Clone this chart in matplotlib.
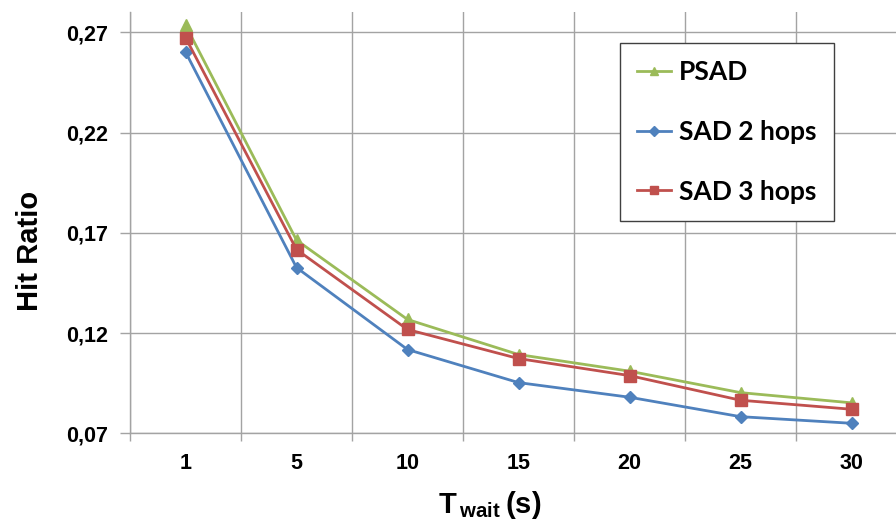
import matplotlib
matplotlib.use('Agg')
import matplotlib.pyplot as plt
import numpy as np

# T_wait categories (s) and hit ratios
t_wait = ['1', '5', '10', '15', '20', '25', '30']
psad = [0.2737, 0.1664, 0.1268, 0.1093, 0.1010, 0.0903, 0.0852]
sad_2hops = [0.2603, 0.1527, 0.1118, 0.0953, 0.0880, 0.0783, 0.0750]
sad_3hops = [0.2675, 0.1617, 0.1218, 0.1073, 0.0988, 0.0865, 0.0820]
y_ticks = [0.07, 0.12, 0.17, 0.22, 0.27]

plt.rcParams['font.family'] = 'Liberation Sans'
plt.rcParams['font.weight'] = 'bold'
plt.rcParams['mathtext.fontset'] = 'custom'
plt.rcParams['mathtext.rm'] = 'Liberation Sans:bold'
plt.rcParams['mathtext.bf'] = 'Liberation Sans:bold'

fig = plt.figure(figsize=(8.96, 5.27), dpi=100)
W, H = 896, 527
ax = fig.add_axes([130 / W, 1 - 433.3 / H, 777 / W, (433.3 - 12) / H])

grid_c = '#a3a3a3'
x = np.arange(len(t_wait))

ax.plot(x, psad, color='#9bbb59', lw=2, marker='^', ms=8, label='PSAD', zorder=3)
ax.plot(x, sad_2hops, color='#4f81bd', lw=2, marker='D', ms=6, label='SAD 2 hops', zorder=3)
ax.plot(x, sad_3hops, color='#c0504d', lw=2, marker='s', ms=8, label='SAD 3 hops', zorder=3)

ax.set_xlim(-0.5, len(t_wait) - 0.5)
ax.set_ylim(0.07, 0.07 + 0.05 * (433.3 - 12) / 100.2)

ax.set_xticks(x)
ax.set_xticklabels(t_wait)
ax.set_xticks(np.arange(len(t_wait) + 1) - 0.5, minor=True)
ax.tick_params(axis='x', which='major', length=0, pad=14, labelsize=15.5)
ax.tick_params(axis='x', which='minor', length=6, color=grid_c, width=1)
ax.grid(True, axis='x', which='minor', color=grid_c, lw=1)

ax.set_yticks(y_ticks)
ax.set_yticklabels([('%.2f' % v).replace('.', ',') for v in y_ticks])
ax.tick_params(axis='y', length=7, color=grid_c, width=1, pad=9, labelsize=15.5)
ax.grid(True, axis='y', color=grid_c, lw=1)
ax.set_axisbelow(True)

for s in ['top', 'right']:
    ax.spines[s].set_visible(False)
for s in ['left', 'bottom']:
    ax.spines[s].set_color(grid_c)
    ax.spines[s].set_linewidth(1)

fig.text(30 / W, 1 - 251 / H, 'Hit Ratio', rotation=90, fontsize=21,
         fontweight='bold', ha='center', va='center')
fig.text(490 / W, 1 - 505 / H, r'T$_{\,\mathrm{wait}}\,$(s)', fontsize=21,
         fontweight='bold', ha='center', va='center')

leg = ax.legend(loc='upper left', bbox_to_anchor=(620 / W, 1 - 43 / H),
                bbox_transform=fig.transFigure, borderaxespad=0,
                prop={'family': 'Lato', 'weight': 'bold', 'size': 19},
                fancybox=False, framealpha=1, edgecolor='#404040',
                labelspacing=1.36, handlelength=1.3, handletextpad=0.3,
                borderpad=0.64, markerscale=0.8)
leg.get_frame().set_linewidth(1)

fig.savefig('out.png', dpi=100)
